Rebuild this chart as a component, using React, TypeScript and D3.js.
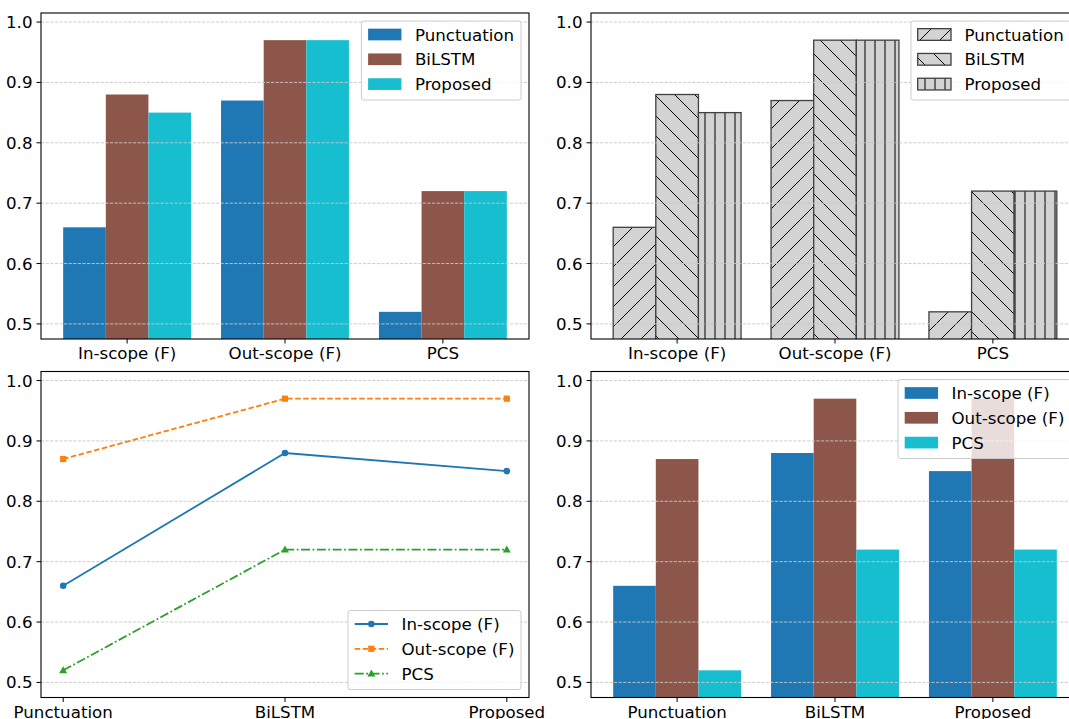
import React from "react";
import * as d3 from "d3";

// ---------- data ----------
const metrics = ["In-scope (F)", "Out-scope (F)", "PCS"];
const methods = ["Punctuation", "BiLSTM", "Proposed"];
const punctuationScores = [0.66, 0.87, 0.52];
const bilstmScores = [0.88, 0.97, 0.72];
const proposedScores = [0.85, 0.97, 0.72];
const inScopeScores = [0.66, 0.88, 0.85];
const outScopeScores = [0.87, 0.97, 0.97];
const pcsScores = [0.52, 0.72, 0.72];
const yTickValues = [0.5, 0.6, 0.7, 0.8, 0.9, 1.0];
const yTickLabels = ["0.5", "0.6", "0.7", "0.8", "0.9", "1.0"];

// ---------- styles ----------
const W = 1069;
const H = 719;
const FONT = "DejaVu Sans";
const FS = 16.67;
const BAR_W = 0.27;

const TL = { x0: 41, x1: 529, y0: 13, y1: 339 };
const TR = { x0: 591, x1: 1079, y0: 13, y1: 339 };
const BL = { x0: 41, x1: 529, y0: 371.5, y1: 697.5 };
const BR = { x0: 591, x1: 1079, y0: 371.5, y1: 697.5 };

type Panel = { x0: number; x1: number; y0: number; y1: number };

const methodSeries = [
  { name: methods[0], values: punctuationScores, color: "#1f77b4", hatch: "hatchSlash" },
  { name: methods[1], values: bilstmScores, color: "#8c564b", hatch: "hatchBack" },
  { name: methods[2], values: proposedScores, color: "#17becf", hatch: "hatchVert" },
];
const metricSeries = [
  { name: metrics[0], values: inScopeScores, color: "#1f77b4", lineColor: "#1f77b4", dash: "", marker: "circle" },
  { name: metrics[1], values: outScopeScores, color: "#8c564b", lineColor: "#ff7f0e", dash: "5.5,2.5", marker: "square" },
  { name: metrics[2], values: pcsScores, color: "#17becf", lineColor: "#2ca02c", dash: "9,2.5,1.8,2.5", marker: "triangle" },
];

const yOf = (p: Panel) => d3.scaleLinear().domain([0.475, 1.015]).range([p.y1, p.y0]);
const barX = (p: Panel) => d3.scaleLinear().domain([-0.5455, 2.5455]).range([p.x0, p.x1]);
const lineX = (p: Panel) => d3.scaleLinear().domain([-0.1, 2.1]).range([p.x0, p.x1]);

function Grid({ p }: { p: Panel }) {
  const y = yOf(p);
  return (
    <g>
      {yTickValues.map((v) => (
        <line key={v} x1={p.x0} x2={p.x1} y1={y(v)} y2={y(v)} stroke="#c8c8c8" strokeWidth={0.9} strokeDasharray="3.2,1.4" />
      ))}
    </g>
  );
}

function Axes({ p, ticks, labels, xs }: { p: Panel; ticks: number[]; labels: string[]; xs: (v: number) => number }) {
  const y = yOf(p);
  return (
    <g fontFamily={FONT} fontSize={FS} fill="#000">
      <rect x={p.x0} y={p.y0} width={p.x1 - p.x0} height={p.y1 - p.y0} fill="none" stroke="#000" strokeWidth={1.1} />
      {yTickValues.map((v, i) => (
        <g key={v}>
          <line x1={p.x0 - 4.5} x2={p.x0} y1={y(v)} y2={y(v)} stroke="#000" strokeWidth={1} />
          <text x={p.x0 - 8.5} y={y(v) + 6} textAnchor="end">{yTickLabels[i]}</text>
        </g>
      ))}
      {ticks.map((t, i) => (
        <g key={t}>
          <line x1={xs(t)} x2={xs(t)} y1={p.y1} y2={p.y1 + 4.5} stroke="#000" strokeWidth={1} />
          <text x={xs(t)} y={p.y1 + 20} textAnchor="middle">{labels[i]}</text>
        </g>
      ))}
    </g>
  );
}

function Legend({ x, y, w, h, items }: { x: number; y: number; w: number; h: number; items: { label: string; swatch: (hx: number, cy: number) => React.ReactNode }[] }) {
  return (
    <g fontFamily={FONT} fontSize={FS}>
      <rect x={x} y={y} width={w} height={h} rx={2.5} fill="#fff" fillOpacity={0.8} stroke="#cccccc" strokeWidth={1} />
      {items.map((it, i) => {
        const cy = y + 13.5 + i * 24.8;
        return (
          <g key={it.label}>
            {it.swatch(x + 6.7, cy)}
            <text x={x + 53.5} y={cy + 6} fill="#000">{it.label}</text>
          </g>
        );
      })}
    </g>
  );
}

function Marker({ kind, cx, cy, color }: { kind: string; cx: number; cy: number; color: string }) {
  if (kind === "circle") return <circle cx={cx} cy={cy} r={3.3} fill={color} />;
  if (kind === "square") return <rect x={cx - 3.1} y={cy - 3.1} width={6.2} height={6.2} fill={color} />;
  const s = 4;
  return <path d={`M${cx},${cy - s} L${cx + s},${cy + s * 0.75} L${cx - s},${cy + s * 0.75} Z`} fill={color} />;
}

export default function App() {
  const idx = [0, 1, 2];

  // Top-left: coloured bars by method
  const xTL = barX(TL);
  const yTL = yOf(TL);
  // Top-right: hatched bars
  const xTR = barX(TR);
  const yTR = yOf(TR);
  // Bottom-left: lines
  const xBL = lineX(BL);
  const yBL = yOf(BL);
  // Bottom-right: bars by metric
  const xBR = barX(BR);
  const yBR = yOf(BR);

  const barRect = (xs: any, ys: any, p: Panel, i: number, j: number, v: number) => {
    const c = i + (j - 1) * BAR_W;
    const xa = xs(c - BAR_W / 2);
    const xb = xs(c + BAR_W / 2);
    return { x: xa, y: ys(v), width: xb - xa, height: p.y1 + 2 - ys(v) };
  };

  return (
    <div style={{ position: "absolute", left: 0, top: 0 }}>
      <svg width={W} height={H} viewBox={`0 0 ${W} ${H}`} style={{ display: "block", background: "#fff" }}>
        <defs>
          <pattern id="hatchSlash" patternUnits="userSpaceOnUse" width={20} height={20}>
            <rect width={20} height={20} fill="#d3d3d3" />
            <path d="M0,20 L20,0 M-5,5 L5,-5 M15,25 L25,15" stroke="#000" strokeWidth={1} />
          </pattern>
          <pattern id="hatchBack" patternUnits="userSpaceOnUse" width={20} height={20}>
            <rect width={20} height={20} fill="#d3d3d3" />
            <path d="M0,0 L20,20 M-5,15 L5,25 M15,-5 L25,5" stroke="#000" strokeWidth={1} />
          </pattern>
          <pattern id="hatchVert" patternUnits="userSpaceOnUse" width={10} height={10}>
            <rect width={10} height={10} fill="#d3d3d3" />
            <path d="M5,0 L5,10" stroke="#000" strokeWidth={1} />
          </pattern>
          {[TL, TR, BL, BR].map((p, k) => (
            <clipPath id={`clip${k}`} key={k}>
              <rect x={p.x0} y={p.y0} width={p.x1 - p.x0} height={p.y1 - p.y0} />
            </clipPath>
          ))}
        </defs>

        {/* ---------- Top-left ---------- */}
        <g clipPath="url(#clip0)">
          {methodSeries.map((s, j) =>
            s.values.map((v, i) => <rect key={`${j}-${i}`} {...barRect(xTL, yTL, TL, i, j, v)} fill={s.color} />)
          )}
        </g>
        <Grid p={TL} />
        <Axes p={TL} ticks={idx} labels={metrics} xs={xTL} />
        <Legend
          x={361.4}
          y={TL.y0 + 8}
          w={159.6}
          h={79}
          items={methodSeries.map((s) => ({
            label: s.name,
            swatch: (hx: number, cy: number) => <rect x={hx} y={cy - 5.85} width={33.3} height={11.7} fill={s.color} />,
          }))}
        />

        {/* ---------- Top-right ---------- */}
        <g clipPath="url(#clip1)">
          {methodSeries.map((s, j) =>
            s.values.map((v, i) => (
              <rect key={`${j}-${i}`} {...barRect(xTR, yTR, TR, i, j, v)} fill={`url(#${s.hatch})`} stroke="#404040" strokeWidth={1.3} />
            ))
          )}
        </g>
        <Grid p={TR} />
        <Axes p={TR} ticks={idx} labels={metrics} xs={xTR} />
        <Legend
          x={911}
          y={TR.y0 + 8}
          w={159.6}
          h={79}
          items={methodSeries.map((s) => ({
            label: s.name,
            swatch: (hx: number, cy: number) => (
              <rect x={hx} y={cy - 5.85} width={33.3} height={11.7} fill={`url(#${s.hatch})`} stroke="#404040" strokeWidth={1.3} />
            ),
          }))}
        />

        {/* ---------- Bottom-left ---------- */}
        <Grid p={BL} />
        <g clipPath="url(#clip2)">
          {metricSeries.map((s) => {
            const line = d3
              .line<number>()
              .x((_, i) => xBL(i))
              .y((v) => yBL(v));
            return (
              <g key={s.name}>
                <path d={line(s.values) || ""} fill="none" stroke={s.lineColor} strokeWidth={1.8} strokeDasharray={s.dash || undefined} />
                {s.values.map((v, i) => (
                  <Marker key={i} kind={s.marker} cx={xBL(i)} cy={yBL(v)} color={s.lineColor} />
                ))}
              </g>
            );
          })}
        </g>
        <Axes p={BL} ticks={idx} labels={methods} xs={xBL} />
        <Legend
          x={348}
          y={BL.y1 - 8 - 79}
          w={173}
          h={79}
          items={metricSeries.map((s) => ({
            label: s.name,
            swatch: (hx: number, cy: number) => (
              <g>
                <line x1={hx} x2={hx + 33.3} y1={cy} y2={cy} stroke={s.lineColor} strokeWidth={1.8} strokeDasharray={s.dash || undefined} />
                <Marker kind={s.marker} cx={hx + 16.65} cy={cy} color={s.lineColor} />
              </g>
            ),
          }))}
        />

        {/* ---------- Bottom-right ---------- */}
        <g clipPath="url(#clip3)">
          {metricSeries.map((s, j) =>
            s.values.map((v, i) => <rect key={`${j}-${i}`} {...barRect(xBR, yBR, BR, i, j, v)} fill={s.color} />)
          )}
        </g>
        <Grid p={BR} />
        <Axes p={BR} ticks={idx} labels={methods} xs={xBR} />
        <Legend
          x={898}
          y={BR.y0 + 8}
          w={173}
          h={79}
          items={metricSeries.map((s) => ({
            label: s.name,
            swatch: (hx: number, cy: number) => <rect x={hx} y={cy - 5.85} width={33.3} height={11.7} fill={s.color} />,
          }))}
        />
      </svg>
    </div>
  );
}
